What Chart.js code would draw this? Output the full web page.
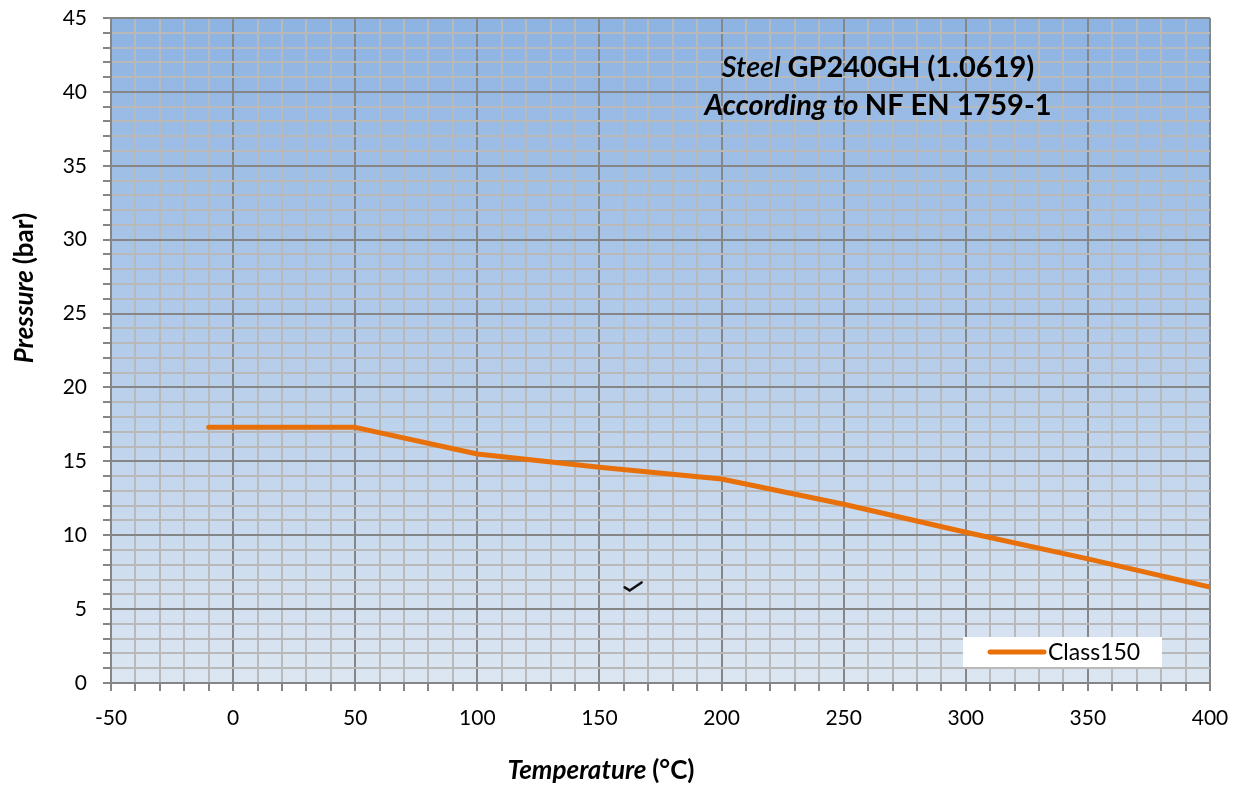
<!DOCTYPE html>
<html>
<head>
<meta charset="utf-8">
<script src="https://cdn.jsdelivr.net/npm/chart.js@4.4.1/dist/chart.umd.min.js"></script>
<style>
  body { margin: 0; background: #fff; }
  #wrap { width: 1243px; height: 785px; }
</style>
</head>
<body>
<div id="wrap"><canvas id="myChart" width="1243" height="785"></canvas></div>
<script>
// datos
var temperatures = [-10, 50, 100, 150, 200, 250, 300, 350, 400];
var pressures = [17.3, 17.3, 15.5, 14.6, 13.8, 12.1, 10.2, 8.4, 6.5];
var seriesName = "Class150";
var xRange = [-50, 400];
var yRange = [0, 45];
var checkMark = [164, 6.4]; // pequeña marca suelta en la grafica

var fontFamily = "Lato, 'Noto Sans', sans-serif";
var orange = "#E8700A";

// dibuja texto con partes en distintas fuentes, centrado en cx
function drawRich(ctx, parts, cx, y) {
  var total = 0;
  parts.forEach(function (p) {
    ctx.font = p.font;
    total += ctx.measureText(p.text).width;
  });
  var x = cx - total / 2;
  parts.forEach(function (p) {
    ctx.font = p.font;
    ctx.fillText(p.text, x, y);
    x += ctx.measureText(p.text).width;
  });
}

var extras = {
  id: "extras",
  beforeDraw: function (chart) {
    var ctx = chart.ctx;
    var a = chart.chartArea;
    var g = ctx.createLinearGradient(0, a.top, 0, a.bottom);
    g.addColorStop(0, "#8DB3E2");
    g.addColorStop(1, "#DCE6F2");
    ctx.save();
    ctx.fillStyle = g;
    ctx.fillRect(a.left, a.top, a.right - a.left, a.bottom - a.top);
    ctx.restore();
  },
  afterDraw: function (chart) {
    var ctx = chart.ctx;
    var a = chart.chartArea;
    var xs = chart.scales.x, ys = chart.scales.y;
    ctx.save();
    ctx.fillStyle = "#000";
    ctx.textBaseline = "middle";

    // titulo dentro del grafico
    var cx = 878;
    drawRich(ctx, [
      { text: "Steel ", font: "italic 600 29px " + fontFamily },
      { text: "GP240GH (1.0619)", font: "bold 29px " + fontFamily }
    ], cx, a.top + 50);
    drawRich(ctx, [
      { text: "According to ", font: "italic bold 29px " + fontFamily },
      { text: "NF EN 1759-1", font: "bold 29px " + fontFamily }
    ], cx, a.top + 88);

    // titulos de ejes
    drawRich(ctx, [
      { text: "Temperature ", font: "italic bold 26px " + fontFamily },
      { text: "(°C)", font: "bold 26px " + fontFamily }
    ], 601, 771);
    ctx.save();
    ctx.translate(25, 288);
    ctx.rotate(-Math.PI / 2);
    drawRich(ctx, [
      { text: "Pressure ", font: "italic bold 26px " + fontFamily },
      { text: "(bar)", font: "bold 26px " + fontFamily }
    ], 0, 0);
    ctx.restore();

    // leyenda
    var bw = 199, bh = 30;
    var bx = a.right - 48 - bw, by = a.bottom - 16 - bh;
    ctx.fillStyle = "#fff";
    ctx.fillRect(bx, by, bw, bh);
    ctx.strokeStyle = orange;
    ctx.lineWidth = 5;
    ctx.lineCap = "round";
    ctx.beginPath();
    ctx.moveTo(bx + 27, by + bh / 2);
    ctx.lineTo(bx + 81, by + bh / 2);
    ctx.stroke();
    ctx.fillStyle = "#000";
    ctx.font = "23px " + fontFamily;
    ctx.textAlign = "left";
    ctx.fillText(seriesName, bx + 85, by + bh / 2 + 1);

    // marca
    var mx = xs.getPixelForValue(checkMark[0]);
    var my = ys.getPixelForValue(checkMark[1]);
    ctx.strokeStyle = "#111";
    ctx.lineWidth = 2.5;
    ctx.lineCap = "round";
    ctx.beginPath();
    ctx.moveTo(mx - 9, my - 1);
    ctx.lineTo(mx - 4, my + 2);
    ctx.lineTo(mx + 8, my - 6);
    ctx.stroke();
    ctx.restore();
  }
};

var points = temperatures.map(function (t, i) {
  return { x: t, y: pressures[i] };
});

function gridColor(major) {
  return function (c) {
    return c.tick && c.tick.value % major === 0 ? "#868686" : "#B9B9B9";
  };
}

var ctx = document.getElementById("myChart").getContext("2d");
var chart = new Chart(ctx, {
  type: "line",
  data: {
    datasets: [
      {
        label: seriesName,
        data: points,
        borderColor: orange,
        backgroundColor: orange,
        borderWidth: 5,
        borderCapStyle: "round",
        borderJoinStyle: "round",
        pointRadius: 0,
        tension: 0,
      },
    ],
  },
  options: {
    responsive: false,
    animation: false,
    devicePixelRatio: 1,
    layout: { padding: { top: 18, right: 33, left: 0, bottom: 0 } },
    plugins: { legend: { display: false }, tooltip: { enabled: false } },
    scales: {
      x: {
        type: "linear",
        min: xRange[0],
        max: xRange[1],
        afterFit: function (s) { s.height = 102; s.paddingLeft = 0; s.paddingRight = 0; },
        border: { color: "#868686", width: 2 },
        grid: { color: gridColor(50), lineWidth: 2, tickLength: 8, tickColor: "#868686" },
        ticks: {
          stepSize: 10,
          autoSkip: false,
          maxTicksLimit: 100,
          maxRotation: 0,
          padding: 15,
          color: "#000",
          font: { family: fontFamily, size: 21 },
          callback: function (v) { return v % 50 === 0 ? v : ""; },
        },
      },
      y: {
        min: yRange[0],
        max: yRange[1],
        afterFit: function (s) { s.width = 111; s.paddingTop = 0; s.paddingBottom = 0; },
        border: { color: "#868686", width: 2 },
        grid: { color: gridColor(5), lineWidth: 2, tickLength: 8, tickColor: "#868686" },
        ticks: {
          stepSize: 1,
          autoSkip: false,
          maxTicksLimit: 100,
          padding: 16,
          color: "#000",
          font: { family: fontFamily, size: 21 },
          callback: function (v) { return v % 5 === 0 ? v : ""; },
        },
      },
    },
  },
  plugins: [extras],
});
</script>
</body>
</html>
